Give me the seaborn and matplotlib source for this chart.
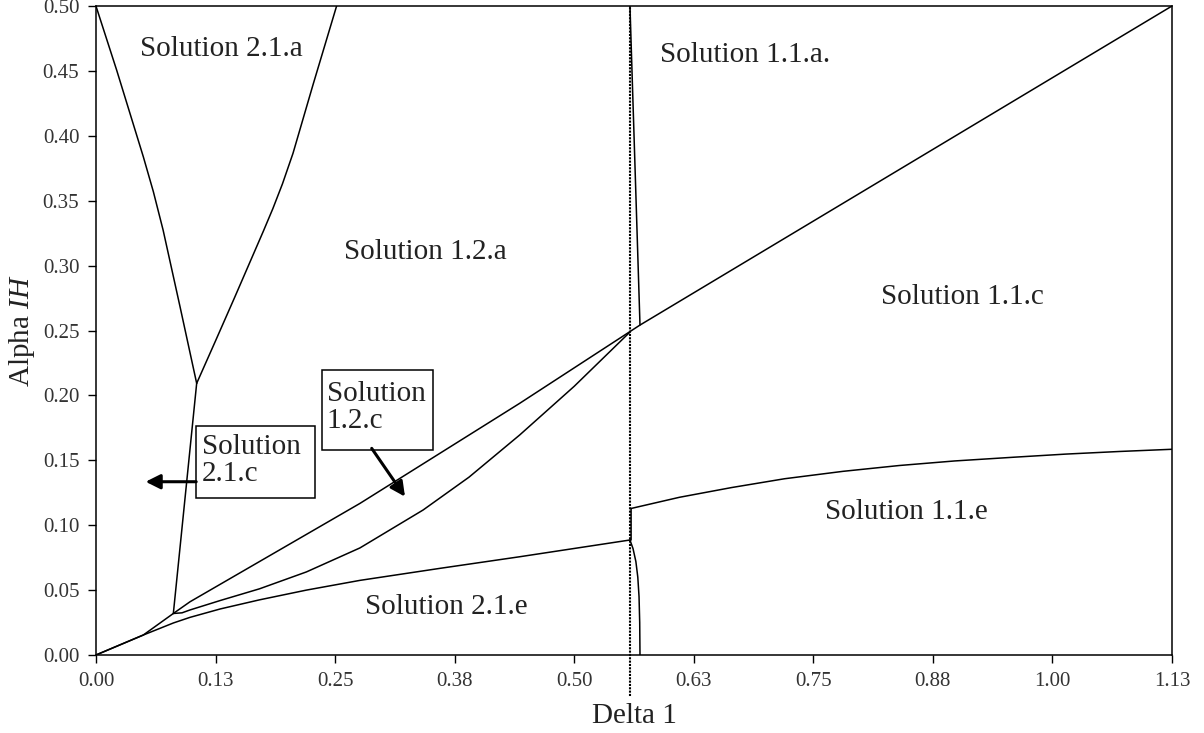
import matplotlib
matplotlib.use("Agg")
import numpy as np
import pandas as pd
import matplotlib.pyplot as plt
import seaborn as sns
from matplotlib.patches import Rectangle

# --- region boundaries in the (Delta 1, Alpha IH) plane -------------------
sol21a_left_x = [0.0, 0.0216, 0.0495, 0.0600, 0.0702, 0.0880, 0.1053]
sol21a_left_y = [0.5, 0.4507, 0.3839, 0.357, 0.3274, 0.268, 0.2093]

sol21a_right_x = [0.1053, 0.125, 0.145, 0.165, 0.175, 0.185, 0.195, 0.206, 0.227, 0.2516]
sol21a_right_y = [0.2093, 0.242, 0.2755, 0.3095, 0.3265, 0.344, 0.363, 0.3865, 0.4395, 0.5]

sol21c_edge_x = [0.1053, 0.0809]
sol21c_edge_y = [0.2093, 0.032]

upper_x = [0.0, 0.0495, 0.0809, 0.0983, 0.276, 0.443, 0.5688, 1.125]
upper_y = [0.0, 0.0154, 0.032, 0.041, 0.1168, 0.1939, 0.2542, 0.5]

middle_x = [0.0809, 0.090, 0.0983, 0.13, 0.171, 0.22, 0.276, 0.342, 0.39, 0.443, 0.50, 0.5583]
middle_y = [0.032, 0.0325, 0.0347, 0.042, 0.051, 0.064, 0.0825, 0.1117, 0.137, 0.1695, 0.207, 0.2488]

lower_x = [0.0, 0.0495, 0.081, 0.0983, 0.13, 0.171, 0.22, 0.276, 0.36, 0.443, 0.5583]
lower_y = [0.0, 0.0154, 0.0247, 0.029, 0.0355, 0.0425, 0.050, 0.0575, 0.0668, 0.0757, 0.0886]

sol11a_edge_x = [0.5583, 0.5688]
sol11a_edge_y = [0.5, 0.2542]

foot_x = [0.5688, 0.5685, 0.5678, 0.5665, 0.5645, 0.5615, 0.5583, 0.5595, 0.5595]
foot_y = [0.0, 0.025, 0.045, 0.060, 0.072, 0.082, 0.0886, 0.0886, 0.1129]

sol11e_x = [0.5595, 0.6100, 0.6645, 0.720, 0.781, 0.840, 0.8977, 0.960, 1.0143, 1.070, 1.125]
sol11e_y = [0.1129, 0.1215, 0.129, 0.1358, 0.1415, 0.146, 0.1495, 0.1524, 0.1548, 0.1568, 0.1585]

divider_x = 0.5583

x_ticks = [0.0, 0.125, 0.25, 0.375, 0.5, 0.625, 0.75, 0.875, 1.0, 1.125]
x_tick_labels = ["0.00", "0.13", "0.25", "0.38", "0.50", "0.63", "0.75", "0.88", "1.00", "1.13"]
y_ticks = [0.0, 0.05, 0.10, 0.15, 0.20, 0.25, 0.30, 0.35, 0.40, 0.45, 0.50]
y_tick_labels = ["0.00", "0.05", "0.10", "0.15", "0.20", "0.25", "0.30", "0.35", "0.40", "0.45", "0.50"]

region_labels = ["Solution 2.1.a", "Solution 1.1.a.", "Solution 1.2.a",
                 "Solution 1.1.c", "Solution 1.1.e", "Solution 2.1.e"]
region_label_x = [0.131, 0.679, 0.344, 0.9055, 0.847, 0.366]
region_label_y = [0.4665, 0.4622, 0.3105, 0.2758, 0.110, 0.037]

# --- assemble a long table of boundary polylines ---------------------------
boundaries = {
    "2.1.a left": (sol21a_left_x, sol21a_left_y),
    "2.1.a right": (sol21a_right_x, sol21a_right_y),
    "2.1.c edge": (sol21c_edge_x, sol21c_edge_y),
    "upper": (upper_x, upper_y),
    "middle": (middle_x, middle_y),
    "lower": (lower_x, lower_y),
    "1.1.a edge": (sol11a_edge_x, sol11a_edge_y),
    "foot": (foot_x, foot_y),
    "1.1.e": (sol11e_x, sol11e_y),
}
frames = []
for name, (xs, ys) in boundaries.items():
    frames.append(pd.DataFrame({"boundary": name, "order": range(len(xs)),
                                "delta": xs, "alpha": ys}))
df = pd.concat(frames, ignore_index=True)

sns.set_theme(style="ticks")
plt.rcParams["font.family"] = ["Liberation Serif", "DejaVu Serif"]
plt.rcParams["mathtext.fontset"] = "custom"
plt.rcParams["mathtext.rm"] = "Liberation Serif"
plt.rcParams["mathtext.it"] = "Liberation Serif:italic"

fig = plt.figure(figsize=(12.04, 7.33), dpi=100)
ax = fig.add_axes([0.0797, 0.1064, 0.8937, 0.8854])

sns.lineplot(data=df, x="delta", y="alpha", units="boundary", estimator=None,
             sort=False, color="black", linewidth=1.1, ax=ax, legend=False)

# dotted divider running through the frame
ax.plot([divider_x, divider_x], [-0.0316, 0.5], color="black",
        linestyle=(0, (1, 0.6)), linewidth=1.5, clip_on=False, zorder=3)

ax.set_xlim(0, 1.125)
ax.set_ylim(0, 0.5)
ax.set_xticks(x_ticks)
ax.set_xticklabels(x_tick_labels)
ax.set_yticks(y_ticks)
ax.set_yticklabels(y_tick_labels)
ax.tick_params(axis="both", direction="out", length=6, width=1, colors="black",
               labelsize=15, labelcolor="#333333", pad=6)

for side in ["top", "right", "bottom", "left"]:
    ax.spines[side].set_visible(True)
    ax.spines[side].set_color("black")
    ax.spines[side].set_linewidth(1.1)

ax.set_xlabel("Delta 1", fontsize=21, color="#222222", labelpad=9)
ax.set_ylabel(r"Alpha $\mathit{IH}$", fontsize=21, color="#222222", labelpad=4)

for txt, lx, ly in zip(region_labels, region_label_x, region_label_y):
    ax.text(lx, ly, txt, fontsize=21, ha="center", va="center", color="#222222")

# callout boxes with arrows
ax.add_patch(Rectangle((0.1044, 0.1209), 0.1245, 0.0552, facecolor="white",
                       edgecolor="black", linewidth=1.1, zorder=4))
ax.text(0.1104, 0.1495, "Solution\n2.1.c", fontsize=21, ha="left", va="center",
        linespacing=1.05, color="#222222", zorder=5)
ax.annotate("", xy=(0.0519, 0.1335), xytext=(0.1048, 0.1335),
            arrowprops=dict(arrowstyle="-|>", color="black", lw=2.2,
                            mutation_scale=22, shrinkA=0, shrinkB=0), zorder=5)

ax.add_patch(Rectangle((0.2359, 0.1579), 0.1161, 0.0617, facecolor="white",
                       edgecolor="black", linewidth=1.1, zorder=4))
ax.text(0.2412, 0.1905, "Solution\n1.2.c", fontsize=21, ha="left", va="center",
        linespacing=1.05, color="#222222", zorder=5)
ax.annotate("", xy=(0.3231, 0.1220), xytext=(0.2883, 0.1592),
            arrowprops=dict(arrowstyle="-|>", color="black", lw=2.2,
                            mutation_scale=22, shrinkA=0, shrinkB=0), zorder=5)

fig.savefig("out.png", dpi=100)
